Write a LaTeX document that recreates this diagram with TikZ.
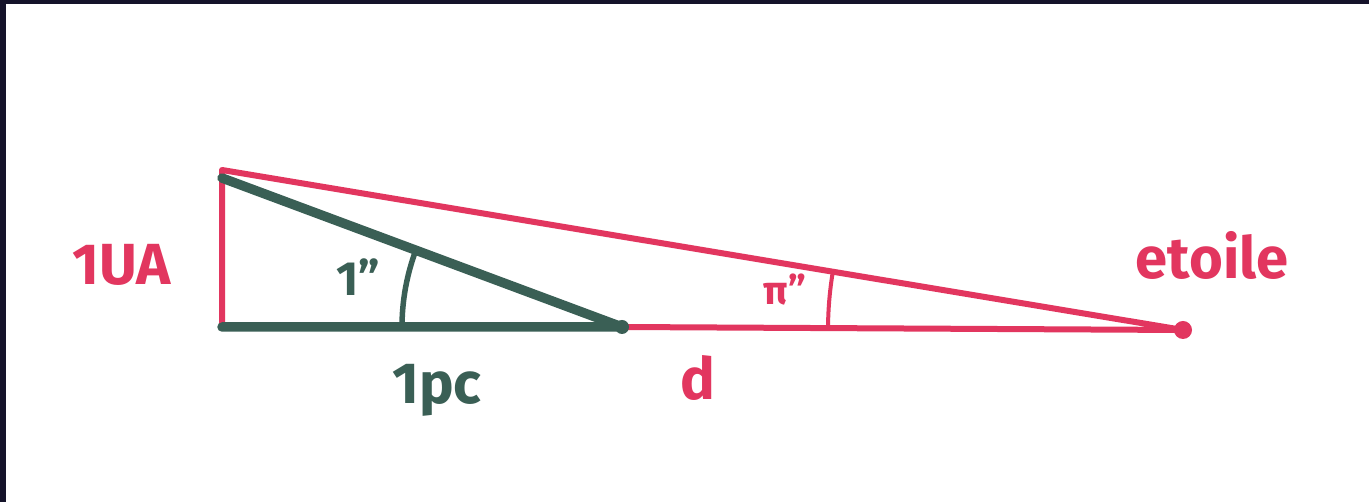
\documentclass[tikz,border=0pt]{standalone}
\usepackage{fontspec}
\setmainfont{Fira Sans}
\definecolor{redink}{HTML}{E2365F}
\definecolor{greenink}{HTML}{3A5F55}
\definecolor{frame}{HTML}{15132A}
\begin{document}
\begin{tikzpicture}[x=1pt,y=1pt,
  redline/.style={draw=redink,line width=6pt,line cap=round,line join=round},
  greenline/.style={draw=greenink,line width=9.5pt,line cap=round,line join=round},
  redarc/.style={draw=redink,line width=4pt,line cap=round},
  greenarc/.style={draw=greenink,line width=5.5pt,line cap=round},
  redlabel/.style={text=redink,inner sep=0pt,font=\fontsize{58}{66}\selectfont\bfseries},
  greenlabel/.style={text=greenink,inner sep=0pt,font=\fontsize{58}{66}\selectfont\bfseries}]
\useasboundingbox (0,0) rectangle (1369,502);
\fill[frame] (0,0) rectangle (1369,502);
\fill[white] (6,0) rectangle (1369,498);
% vertices
\coordinate (A) at (222,332);
\coordinate (At) at (222,324);
\coordinate (B) at (222,175);
\coordinate (C) at (622,175);
\coordinate (S) at (1183,172);
% red triangle
\draw[redline] (B) -- (A) -- (S) -- (C);
% green triangle
\draw[greenline] (At) -- (C) -- (B);
\fill[greenink] (C) circle (7);
\fill[redink] (S) circle (9);
% angle arcs
\draw[greenarc] ([shift={(180:220)}]C) arc[start angle=180, end angle=159.6, radius=220];
\draw[redarc] ([shift={(179.7:355)}]S) arc[start angle=179.7, end angle=170.6, radius=355];
% labels
\node[redlabel] (ua) at (122,237) {1UA};
\node[greenlabel,font=\fontsize{48}{56}\selectfont\bfseries] (one) at (358,225) {1\char"22};
\node[greenlabel] (pc) at (437,112) {1pc};
\node[redlabel] (d) at (698,124) {d};
\node[redlabel,font=\fontsize{40}{48}\selectfont\bfseries] (pi) at (785,212) {π\char"22};
\node[redlabel] (et) at (1212,247) {etoile};
\end{tikzpicture}
\end{document}
